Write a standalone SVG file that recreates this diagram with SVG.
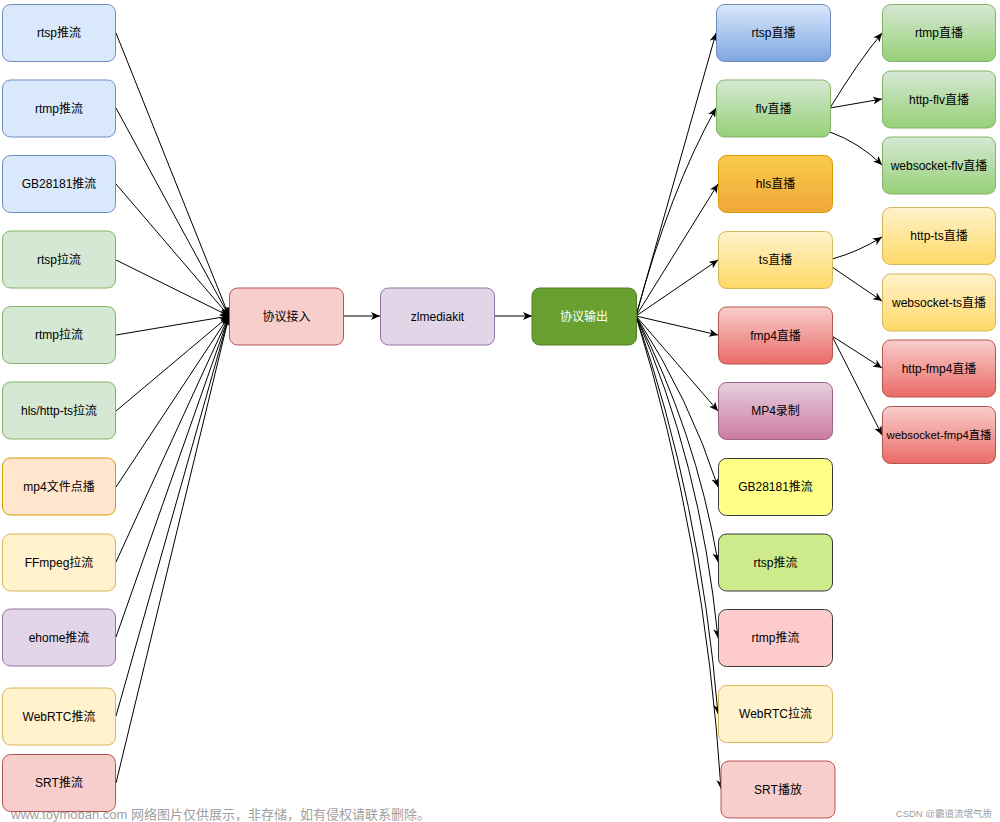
<svg xmlns="http://www.w3.org/2000/svg" width="1000" height="822" viewBox="0 0 1000 822">
<style>
text{font-family:"Liberation Sans","Noto Sans CJK SC",sans-serif;font-size:12px;fill:#000;text-anchor:middle;dominant-baseline:central}
.e{fill:none;stroke:#000;stroke-width:1;marker-end:url(#a)}
.blue{fill:#dae8fc;stroke:#6c8ebf}
.green{fill:#d5e8d4;stroke:#82b366}
.red{fill:#f8cecc;stroke:#b85450}
.purple{fill:#e1d5e7;stroke:#9673a6}
.orange{fill:#ffe6cc;stroke:#d79b00}
.yellow{fill:#fff2cc;stroke:#d6b656}
.wm{font-size:13px;fill:#a0a0a0;text-anchor:start}
</style>
<defs>
<marker id="a" markerWidth="10" markerHeight="8" refX="9" refY="4" orient="auto" markerUnits="userSpaceOnUse"><path d="M0,0 L9,4 L0,8 L2.5,4 Z" fill="#000"/></marker>
<linearGradient id="gBlue" x1="0" y1="0" x2="0" y2="1"><stop offset="0" stop-color="#dae8fc"/><stop offset="1" stop-color="#7ea6e0"/></linearGradient>
<linearGradient id="gGreen" x1="0" y1="0" x2="0" y2="1"><stop offset="0" stop-color="#d5e8d4"/><stop offset="1" stop-color="#97d077"/></linearGradient>
<linearGradient id="gOrange" x1="0" y1="0" x2="0" y2="1"><stop offset="0" stop-color="#f9cb4a"/><stop offset="1" stop-color="#f0a73a"/></linearGradient>
<linearGradient id="gYellow" x1="0" y1="0" x2="0" y2="1"><stop offset="0" stop-color="#fff2cc"/><stop offset="1" stop-color="#ffd966"/></linearGradient>
<linearGradient id="gRed" x1="0" y1="0" x2="0" y2="1"><stop offset="0" stop-color="#f8cecc"/><stop offset="1" stop-color="#ea6b66"/></linearGradient>
<linearGradient id="gPurple" x1="0" y1="0" x2="0" y2="1"><stop offset="0" stop-color="#e6d0de"/><stop offset="1" stop-color="#cd7aa2"/></linearGradient>
</defs>

<g id="connectors">
<path class="e" d="M116,33 L229,316"/>
<path class="e" d="M116,108 L229,316"/>
<path class="e" d="M116,184 L229,316"/>
<path class="e" d="M116,260 L229,316"/>
<path class="e" d="M116,335 L229,316"/>
<path class="e" d="M116,411 L229,316"/>
<path class="e" d="M116,487 L229,316"/>
<path class="e" d="M116,562 L229,316"/>
<path class="e" d="M116,637 L229,316"/>
<path class="e" d="M116,716 L229,316"/>
<path class="e" d="M116,783 L229,316"/>
<path class="e" d="M343,316 L380,316"/>
<path class="e" d="M495,316 L532,316"/>
<path class="e" d="M636,316 L716,33"/>
<path class="e" d="M636,316 Q670,190 716,108"/>
<path class="e" d="M636,316 L718,184"/>
<path class="e" d="M636,316 L718,260"/>
<path class="e" d="M636,316 L718,335"/>
<path class="e" d="M636,316 L718,411"/>
<path class="e" d="M636,316 Q690,400 718,487"/>
<path class="e" d="M636,316 Q695,430 718,562"/>
<path class="e" d="M636,316 Q700,460 718,638"/>
<path class="e" d="M636,316 Q700,500 718,714"/>
<path class="e" d="M636,316 Q705,540 721,789"/>
<path class="e" d="M830,108 Q858,62 882,33"/>
<path class="e" d="M830,108 L882,99"/>
<path class="e" d="M830,132 Q860,143 882,165"/>
<path class="e" d="M832,259 Q858,252 882,237"/>
<path class="e" d="M832,267 L882,301"/>
<path class="e" d="M832,336 L882,368"/>
<path class="e" d="M832,336 L882,435"/>
</g>

<g id="in-rtsp-push"><rect class="blue" x="2.5" y="4.5" width="113" height="57" rx="8"/><text x="59" y="33">rtsp推流</text></g>
<g id="in-rtmp-push"><rect class="blue" x="2.5" y="80" width="113" height="57" rx="8"/><text x="59" y="108.5">rtmp推流</text></g>
<g id="in-gb-push"><rect class="blue" x="2.5" y="155.5" width="113" height="57" rx="8"/><text x="59" y="184">GB28181推流</text></g>
<g id="in-rtsp-pull"><rect class="green" x="2.5" y="231" width="113" height="57" rx="8"/><text x="59" y="259.5">rtsp拉流</text></g>
<g id="in-rtmp-pull"><rect class="green" x="2.5" y="306.5" width="113" height="57" rx="8"/><text x="59" y="335">rtmp拉流</text></g>
<g id="in-hls-pull"><rect class="green" x="2.5" y="382" width="113" height="57" rx="8"/><text x="59" y="410.5">hls/http-ts拉流</text></g>
<g id="in-mp4"><rect class="orange" x="2.5" y="458" width="113" height="57" rx="8"/><text x="59" y="486.5">mp4文件点播</text></g>
<g id="in-ffmpeg"><rect class="yellow" x="2.5" y="534" width="113" height="57" rx="8"/><text x="59" y="562.5">FFmpeg拉流</text></g>
<g id="in-ehome"><rect class="purple" x="2.5" y="609" width="113" height="57" rx="8"/><text x="59" y="637.5">ehome推流</text></g>
<g id="in-webrtc"><rect class="yellow" x="2.5" y="688" width="113" height="57" rx="8"/><text x="59" y="716.5">WebRTC推流</text></g>
<g id="in-srt"><rect class="red" x="2.5" y="754.5" width="113" height="57" rx="8"/><text x="59" y="783">SRT推流</text></g>

<g id="proto-in"><rect class="red" x="229.5" y="288" width="114" height="57" rx="8"/><text x="286.5" y="316.5">协议接入</text></g>
<g id="zlmediakit"><rect class="purple" x="380.5" y="288" width="114" height="57" rx="8"/><text x="437.5" y="316.5">zlmediakit</text></g>
<g id="proto-out"><rect x="532" y="288" width="104.5" height="57" rx="8" fill="#68a130" stroke="#4f7d22"/><text x="584" y="316.5" style="fill:#fff">协议输出</text></g>

<g id="out-rtsp"><rect x="716.5" y="4.5" width="114" height="57" rx="8" fill="url(#gBlue)" stroke="#6c8ebf"/><text x="773.5" y="33">rtsp直播</text></g>
<g id="out-flv"><rect x="716.5" y="80" width="114" height="57" rx="8" fill="url(#gGreen)" stroke="#82b366"/><text x="773.5" y="108.5">flv直播</text></g>
<g id="out-hls"><rect x="718.5" y="155.5" width="114" height="57" rx="8" fill="url(#gOrange)" stroke="#d79b00"/><text x="775.5" y="184">hls直播</text></g>
<g id="out-ts"><rect x="718.5" y="231.5" width="114" height="57" rx="8" fill="url(#gYellow)" stroke="#d6b656"/><text x="775.5" y="260">ts直播</text></g>
<g id="out-fmp4"><rect x="718.5" y="307" width="114" height="57" rx="8" fill="url(#gRed)" stroke="#b85450"/><text x="775.5" y="335.5">fmp4直播</text></g>
<g id="out-mp4rec"><rect x="718.5" y="382.5" width="114" height="57" rx="8" fill="url(#gPurple)" stroke="#996185"/><text x="775.5" y="411">MP4录制</text></g>
<g id="out-gb"><rect x="718.5" y="458.5" width="114" height="57" rx="8" fill="#ffff88" stroke="#36393d"/><text x="775.5" y="487">GB28181推流</text></g>
<g id="out-rtsp-push"><rect x="718.5" y="534" width="114" height="57" rx="8" fill="#cdeb8b" stroke="#36393d"/><text x="775.5" y="562.5">rtsp推流</text></g>
<g id="out-rtmp-push"><rect x="718.5" y="609.5" width="114" height="57" rx="8" fill="#ffcccc" stroke="#36393d"/><text x="775.5" y="638">rtmp推流</text></g>
<g id="out-webrtc"><rect class="yellow" x="718.5" y="685.5" width="114" height="57" rx="8"/><text x="775.5" y="714">WebRTC拉流</text></g>
<g id="out-srt"><rect class="red" x="721" y="761" width="114" height="57" rx="8"/><text x="778" y="789.5">SRT播放</text></g>

<g id="rtmp-live"><rect x="882.5" y="4.5" width="113" height="57" rx="8" fill="url(#gGreen)" stroke="#82b366"/><text x="939" y="33">rtmp直播</text></g>
<g id="httpflv-live"><rect x="882.5" y="71" width="113" height="57" rx="8" fill="url(#gGreen)" stroke="#82b366"/><text x="939" y="99.5">http-flv直播</text></g>
<g id="wsflv-live"><rect x="882.5" y="137" width="113" height="57" rx="8" fill="url(#gGreen)" stroke="#82b366"/><text x="939" y="165.5">websocket-flv直播</text></g>
<g id="httpts-live"><rect x="882.5" y="207.5" width="113" height="57" rx="8" fill="url(#gYellow)" stroke="#d6b656"/><text x="939" y="236">http-ts直播</text></g>
<g id="wsts-live"><rect x="882.5" y="274" width="113" height="57" rx="8" fill="url(#gYellow)" stroke="#d6b656"/><text x="939" y="302.5">websocket-ts直播</text></g>
<g id="httpfmp4-live"><rect x="882.5" y="340" width="113" height="57" rx="8" fill="url(#gRed)" stroke="#b85450"/><text x="939" y="368.5">http-fmp4直播</text></g>
<g id="wsfmp4-live"><rect x="882.5" y="406.5" width="113" height="57" rx="8" fill="url(#gRed)" stroke="#b85450"/><text x="939" y="435" style="font-size:11.3px">websocket-fmp4直播</text></g>

<text class="wm" x="11" y="814">www.toymoban.com 网络图片仅供展示，非存储，如有侵权请联系删除。</text>
<text class="wm" x="992" y="813" style="font-size:9.5px;text-anchor:end">CSDN @霸道流氓气质</text>
</svg>
